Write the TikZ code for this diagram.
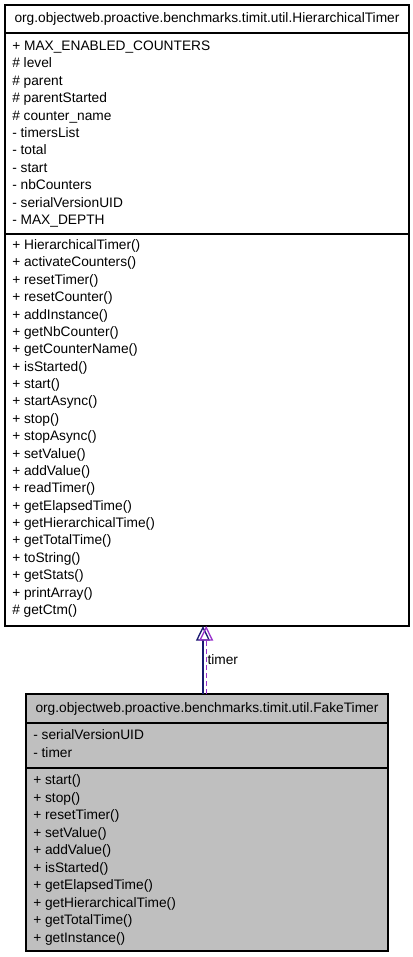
\documentclass[tikz,border=0pt]{standalone}
\usepackage{fontspec}
\setmainfont{Liberation Sans}
\usetikzlibrary{arrows.meta,positioning}
\definecolor{umlblue}{RGB}{25,25,112}
\definecolor{umlorchid}{RGB}{153,50,204}
\definecolor{fakebg}{RGB}{191,191,191}

\begin{document}
\begin{tikzpicture}[
    x=0.75pt, y=-0.75pt,
    part/.style={draw, line width=0.8pt, inner sep=0pt, outer sep=0pt,
                 minimum width=#1, font=\fontsize{10.3}{12}\selectfont},
    member/.style={anchor=base west, inner sep=0pt, font=\fontsize{10.3}{12}\selectfont},
    inherit/.style={umlblue, line width=1pt, -{Triangle[open, length=11pt, width=10.5pt]}},
    uses/.style={umlorchid, line width=1pt, dash pattern=on 4pt off 2pt,
                 -{Triangle[open, length=11pt, width=10.5pt]}}
]
    \useasboundingbox (0,0) rectangle (413,957);

    % base class
    \node[part=303pt, minimum height=21pt, anchor=north west] (hierTitle) at (5,5)
        {org.objectweb.proactive.benchmarks.timit.util.HierarchicalTimer};
    \node[part=303pt, minimum height=150.75pt, below=0pt of hierTitle] (hierAttr) {};
    \node[part=303pt, minimum height=294pt, below=0pt of hierAttr] (hierMeth) {};

    \foreach \txt [count=\i from 0] in {+ MAX\_ENABLED\_COUNTERS, \# level, \# parent,
        \# parentStarted, \# counter\_name, - timersList, - total, - start, - nbCounters,
        - serialVersionUID, - MAX\_DEPTH}
        \node[member] (hierA\i) at (12, 50.5+17.4*\i) {\txt};

    \foreach \txt [count=\i from 0] in {+ HierarchicalTimer(), + activateCounters(),
        + resetTimer(), + resetCounter(), + addInstance(), + getNbCounter(),
        + getCounterName(), + isStarted(), + start(), + startAsync(), + stop(),
        + stopAsync(), + setValue(), + addValue(), + readTimer(), + getElapsedTime(),
        + getHierarchicalTime(), + getTotalTime(), + toString(), + getStats(),
        + printArray(), \# getCtm()}
        \node[member] (hierM\i) at (12, 249.5+17.38*\i) {\txt};

    % derived class
    \node[part=271.5pt, minimum height=21.75pt, fill=fakebg, anchor=north west] (fakeTitle) at (26,694)
        {org.objectweb.proactive.benchmarks.timit.util.FakeTimer};
    \node[part=271.5pt, minimum height=33.75pt, fill=fakebg, below=0pt of fakeTitle] (fakeAttr) {};
    \node[part=271.5pt, minimum height=137.25pt, fill=fakebg, below=0pt of fakeAttr] (fakeMeth) {};

    \foreach \txt [count=\i from 0] in {- serialVersionUID, - timer}
        \node[member] (fakeA\i) at (33, 739.5+17.5*\i) {\txt};

    \foreach \txt [count=\i from 0] in {+ start(), + stop(), + resetTimer(), + setValue(),
        + addValue(), + isStarted(), + getElapsedTime(), + getHierarchicalTime(),
        + getTotalTime(), + getInstance()}
        \node[member] (fakeM\i) at (33, 784.5+17.55*\i) {\txt};

    % relations
    \draw[inherit] ([xshift=-3pt]fakeTitle.north) -- ([xshift=-3pt]hierMeth.south);
    \draw[uses] ([xshift=-0.6pt]fakeTitle.north) -- ([xshift=-0.6pt]hierMeth.south)
        node[pos=0.5, anchor=west, inner sep=0.5pt, black, font=\fontsize{10.3}{12}\selectfont] (timerLbl) {timer};
\end{tikzpicture}
\end{document}
